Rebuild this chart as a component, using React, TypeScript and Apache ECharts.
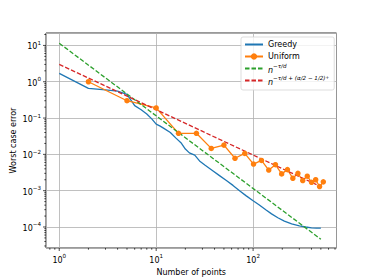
import React, { useEffect, useRef } from 'react';
import * as echarts from 'echarts';

// Greedy (blue) – worst case error vs number of points
const greedyN = [1, 2, 3, 4, 5, 6, 7, 8, 9, 10, 11, 12, 14, 16, 18, 20, 22, 25, 28, 32, 38, 45, 53, 62, 73, 85, 100, 115, 135, 155, 180, 210, 250, 300, 350, 400, 450, 500];
const greedyErr = [1.70, 0.66, 0.60, 0.55, 0.45, 0.22, 0.17, 0.13, 0.095, 0.068, 0.060, 0.052, 0.040, 0.028, 0.021, 0.014, 0.011, 0.0095, 0.0066, 0.0050, 0.0036, 0.0026, 0.0019, 0.0014, 0.00098, 0.00072, 0.00053, 0.00041, 0.00030, 0.00023, 0.00018, 0.000145, 0.000122, 0.000108, 0.000100, 0.000095, 0.000093, 0.000093];

// Uniform (orange, markers)
const uniformN = [2, 5, 10, 17, 26, 37, 50, 65, 82, 101, 122, 145, 170, 197, 226, 257, 290, 325, 362, 401, 442, 485, 530];
const uniformErr = [1.0, 0.30, 0.19, 0.038, 0.038, 0.0146, 0.018, 0.0078, 0.0106, 0.0054, 0.0068, 0.0037, 0.0052, 0.0029, 0.0038, 0.0022, 0.0030, 0.0019, 0.0025, 0.0017, 0.0020, 0.0013, 0.00175];

// Reference rates (straight lines in log-log): endpoints
const rateN = [1, 500];
const tauRate = [11.5, 4.6e-5];
const mixedRate = [3.0, 1.29e-3];

// Tick positions (exponents of major ticks, minor multipliers)
const xMajorExp = [0, 1, 2];
const yMajorExp = [1, 0, -1, -2, -3, -4];
const xMinorDecades = [-1, 0, 1, 2];
const yMinorDecades = [-5, -4, -3, -2, -1, 0, 1];
const minorMult = [2, 3, 4, 5, 6, 7, 8, 9];

const XMIN = 0.73;
const XMAX = 725;
const YMIN = 2.64e-5;
const YMAX = 22;

const FONT = 'DejaVu Sans';
const NAME_G = 'rateTau';
const NAME_R = 'rateMixed';

export default function App() {
  const ref = useRef<HTMLDivElement>(null);
  useEffect(() => {
    const chart = echarts.init(ref.current!, null, { renderer: 'svg' });

    const zip = (a: number[], b: number[]) => a.map((v, i) => [v, b[i]]);
    const inRange = (v: number, lo: number, hi: number) => v >= lo && v <= hi;

    const xTicks: number[][] = [];
    xMajorExp.forEach((e) => xTicks.push([Math.pow(10, e), YMIN, 1]));
    xMinorDecades.forEach((d) => minorMult.forEach((k) => {
      const v = k * Math.pow(10, d);
      if (inRange(v, XMIN, XMAX)) xTicks.push([v, YMIN, 0]);
    }));
    const yTicks: number[][] = [];
    yMajorExp.forEach((e) => yTicks.push([XMIN, Math.pow(10, e), 1]));
    yMinorDecades.forEach((d) => minorMult.forEach((k) => {
      const v = k * Math.pow(10, d);
      if (inRange(v, YMIN, YMAX)) yTicks.push([XMIN, v, 0]);
    }));

    const expLabel = (v: number) => {
      const e = Math.round(Math.log10(v));
      const s = e < 0 ? '\u2212' + -e : String(e);
      return `{b|10}{s|${s}}`;
    };
    const labelRich = {
      b: { fontSize: 8, fontFamily: FONT, color: '#000', lineHeight: 11, verticalAlign: 'bottom' },
      s: { fontSize: 5.6, fontFamily: FONT, color: '#000', lineHeight: 6, verticalAlign: 'top' },
    };

    const legendRich = {
      i: { fontSize: 8, fontFamily: FONT, fontStyle: 'italic', color: '#000', lineHeight: 11, verticalAlign: 'bottom' },
      s: { fontSize: 5.6, fontFamily: FONT, fontStyle: 'italic', color: '#000', lineHeight: 6, verticalAlign: 'top' },
      ss: { fontSize: 4.4, fontFamily: FONT, color: '#000', lineHeight: 9, verticalAlign: 'top' },
    };

    const tickSeries = (data: number[][], horizontal: boolean) => ({
      type: 'custom',
      silent: true,
      clip: false,
      z: 10,
      data,
      renderItem: (params: any, api: any) => {
        const p = api.coord([api.value(0), api.value(1)]);
        const len = api.value(2) ? 3 : 1.7;
        const shape = horizontal
          ? { x1: p[0], y1: p[1], x2: p[0], y2: p[1] + len }
          : { x1: p[0] - len, y1: p[1], x2: p[0], y2: p[1] };
        return { type: 'line', shape, style: { stroke: '#000', lineWidth: 0.7 } };
      },
    });

    const noMarker = { itemStyle: { opacity: 0 } };

    const option: any = {
      animation: false,
      backgroundColor: '#fff',
      textStyle: { fontFamily: FONT },
      grid: {
        left: 46, right: 37.5, top: 33, bottom: 32,
        show: true, borderColor: '#000', borderWidth: 0.8,
        containLabel: false, outerBoundsMode: 'none',
      },
      legend: {
        data: [
          { name: 'Greedy', ...noMarker },
          { name: 'Uniform' },
          { name: NAME_G, ...noMarker },
          { name: NAME_R, ...noMarker },
        ],
        orient: 'vertical',
        left: 241, top: 37,
        itemWidth: 18, itemHeight: 8, itemGap: 1,
        padding: [2, 5, 4, 3],
        backgroundColor: 'rgba(255,255,255,0.8)',
        borderColor: '#d4d4d4', borderWidth: 0.8, borderRadius: 2,
        textStyle: { fontSize: 8, fontFamily: FONT, color: '#000', lineHeight: 11, rich: legendRich },
        formatter: (name: string) => {
          if (name === NAME_G) return '{i|n}{s|\u2212\u03c4/d}';
          if (name === NAME_R) return '{i|n}{s|\u2212\u03c4/d + (\u03b1/2 \u2212 1/2)}{ss|+}';
          return name;
        },
      },
      xAxis: {
        type: 'log', logBase: 10, min: XMIN, max: XMAX,
        name: 'Number of points', nameLocation: 'middle', nameGap: 20,
        nameMoveOverlap: false,
        nameTextStyle: { fontSize: 8, fontFamily: FONT, color: '#000' },
        axisLine: { show: false },
        axisTick: { show: false },
        axisLabel: { formatter: expLabel, rich: labelRich, margin: 5, showMinLabel: false, showMaxLabel: false },
        splitLine: { show: true, lineStyle: { color: '#b0b0b0', width: 0.8 } },
      },
      yAxis: {
        type: 'log', logBase: 10, min: YMIN, max: YMAX,
        name: 'Worst case error', nameLocation: 'middle', nameGap: 28.5,
        nameMoveOverlap: false,
        nameTextStyle: { fontSize: 8, fontFamily: FONT, color: '#000' },
        axisLine: { show: false },
        axisTick: { show: false },
        axisLabel: { formatter: expLabel, rich: labelRich, margin: 5, showMinLabel: false, showMaxLabel: false },
        splitLine: { show: true, lineStyle: { color: '#b0b0b0', width: 0.8 } },
      },
      series: [
        {
          name: 'Greedy', type: 'line', data: zip(greedyN, greedyErr),
          symbol: 'none', color: '#1f77b4',
          lineStyle: { color: '#1f77b4', width: 1.3 },
        },
        {
          name: 'Uniform', type: 'line', data: zip(uniformN, uniformErr),
          symbol: 'circle', symbolSize: 5.5, color: '#ff7f0e',
          itemStyle: { color: '#ff7f0e' },
          lineStyle: { color: '#ff7f0e', width: 1.3 },
        },
        {
          name: NAME_G, type: 'line', data: zip(rateN, tauRate),
          symbol: 'none', color: '#2ca02c',
          lineStyle: { color: '#2ca02c', width: 1.3, type: [4.5, 2] },
        },
        {
          name: NAME_R, type: 'line', data: zip(rateN, mixedRate),
          symbol: 'none', color: '#d62728',
          lineStyle: { color: '#d62728', width: 1.3, type: [4.5, 2] },
        },
        tickSeries(xTicks, true),
        tickSeries(yTicks, false),
      ],
    };
    chart.setOption(option);
    return () => chart.dispose();
  }, []);
  return (
    <div
      ref={ref}
      style={{ position: 'fixed', left: 0, top: 0, width: 374, height: 280, background: '#fff' }}
    />
  );
}
